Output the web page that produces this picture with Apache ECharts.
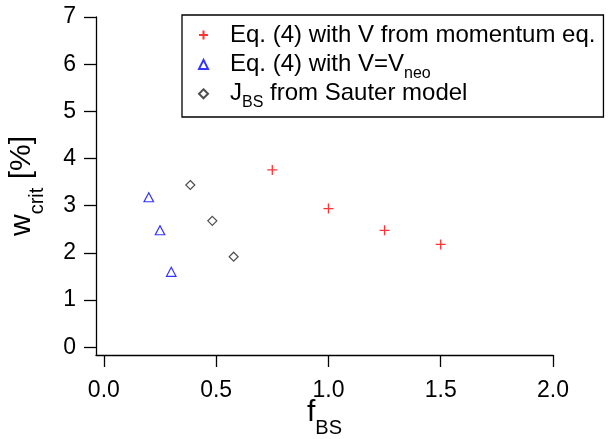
<!DOCTYPE html>
<html>
<head>
<meta charset="utf-8">
<script src="https://cdn.jsdelivr.net/npm/echarts@6/dist/echarts.min.js"></script>
<style>
  html, body { margin: 0; padding: 0; background: #fff; }
  #chart { width: 608px; height: 439px; }
</style>
</head>
<body>
<div id="chart"></div>
<script>
// Tick values for both axes
const xTicks = [0, 0.5, 1.0, 1.5, 2.0];
const yTicks = [0, 1, 2, 3, 4, 5, 6, 7];

// Eq. (4) with V from the momentum equation
const momentumX = [0.75, 1.0, 1.25, 1.5];
const momentumY = [3.76, 2.94, 2.48, 2.18];

// Eq. (4) with V = V_neo
const neoX = [0.20, 0.25, 0.30];
const neoY = [3.18, 2.48, 1.60];

// J_BS from the Sauter model
const sauterX = [0.385, 0.483, 0.578];
const sauterY = [3.44, 2.68, 1.92];

// Every legend row carries a subscript token (empty in the first row)
// so all rows get the same line box.
const legendNames = ['momentum', 'neo', 'sauter'];
const legendLabels = {
  momentum: '{gap|}{t|Eq. (4) with V from momentum eq.}{s|}',
  neo: '{gap|}{t|Eq. (4) with V=V}{s|neo}',
  sauter: '{gap|}{t|J}{s|BS}{t| from Sauter model}'
};

const FONT = '"Liberation Sans", Arial, Helvetica, sans-serif';

const zip = (xs, ys) => xs.map((x, i) => [x, ys[i]]);

const chart = echarts.init(document.getElementById('chart'), null, { renderer: 'canvas' });

const axisLineStyle = { color: '#000', width: 1.3 };

// Axis titles: main text centred in a 40px line box, subscript given a small
// fixed box and bottom-aligned so it drops below the main baseline.
const titleRich = {
  m: { fontFamily: FONT, fontSize: 30, lineHeight: 40, color: '#000' },
  s: { fontFamily: FONT, fontSize: 20, lineHeight: 40, height: 9, verticalAlign: 'bottom', color: '#000' }
};

chart.setOption({
  animation: false,
  backgroundColor: '#fff',
  grid: { left: 96, right: 55, top: 17, bottom: 84, containLabel: false, outerBoundsMode: 'none' },
  legend: {
    data: legendNames,
    orient: 'vertical',
    left: 182,
    top: 15,
    padding: [5.5, 8, 6.4, 16],
    itemWidth: 9,
    itemHeight: 9,
    itemGap: -1.9,
    selectedMode: false,
    borderColor: '#000',
    borderWidth: 1.3,
    backgroundColor: '#fff',
    formatter: name => legendLabels[name],
    textStyle: {
      color: '#000',
      fontFamily: FONT,
      fontSize: 24,
      lineHeight: 29,
      rich: {
        gap: { width: 17, lineHeight: 29 },
        t: { fontFamily: FONT, fontSize: 24, lineHeight: 29, color: '#000' },
        s: { fontFamily: FONT, fontSize: 16, lineHeight: 29, height: 11.4, verticalAlign: 'bottom', color: '#000' }
      }
    }
  },
  xAxis: {
    type: 'value',
    min: -0.035,
    max: 2,
    splitLine: { show: false },
    axisLine: { show: true, onZero: false, lineStyle: axisLineStyle },
    axisTick: { show: true, length: 12, customValues: xTicks, lineStyle: axisLineStyle },
    axisLabel: {
      customValues: xTicks,
      formatter: v => v.toFixed(1),
      margin: 24,
      color: '#000',
      fontFamily: FONT,
      fontSize: 23
    },
    name: '{m|f}{s|BS}',
    nameLocation: 'middle',
    nameGap: 38,
    nameMoveOverlap: false,
    nameTextStyle: { rich: titleRich }
  },
  yAxis: {
    type: 'value',
    min: -0.163,
    max: 7,
    splitLine: { show: false },
    axisLine: { show: true, onZero: false, lineStyle: axisLineStyle },
    axisTick: { show: true, length: 12, customValues: yTicks, lineStyle: axisLineStyle },
    axisLabel: {
      customValues: yTicks,
      formatter: v => String(Math.round(v)),
      margin: 20,
      padding: [4, 0, 0, 0],
      color: '#000',
      fontFamily: FONT,
      fontSize: 23
    },
    name: '{m|w}{s|crit}{m| [%]}',
    nameLocation: 'middle',
    nameRotate: 90,
    nameGap: 54,
    nameTextStyle: { rich: titleRich }
  },
  series: [
    {
      name: 'momentum',
      type: 'scatter',
      data: zip(momentumX, momentumY),
      symbol: 'path://M0,5L10,5M5,0L5,10',
      symbolSize: 10,
      itemStyle: { color: 'transparent', borderColor: '#ff0000', borderWidth: 1.3 },
      emphasis: { disabled: true }
    },
    {
      name: 'neo',
      type: 'scatter',
      data: zip(neoX, neoY),
      symbol: 'triangle',
      symbolSize: [9.5, 9],
      itemStyle: { color: 'transparent', borderColor: '#0000ff', borderWidth: 1.2 },
      emphasis: { disabled: true }
    },
    {
      name: 'sauter',
      type: 'scatter',
      data: zip(sauterX, sauterY),
      symbol: 'diamond',
      symbolSize: 9,
      itemStyle: { color: 'transparent', borderColor: '#222', borderWidth: 1.2 },
      emphasis: { disabled: true }
    }
  ]
});
</script>
</body>
</html>
